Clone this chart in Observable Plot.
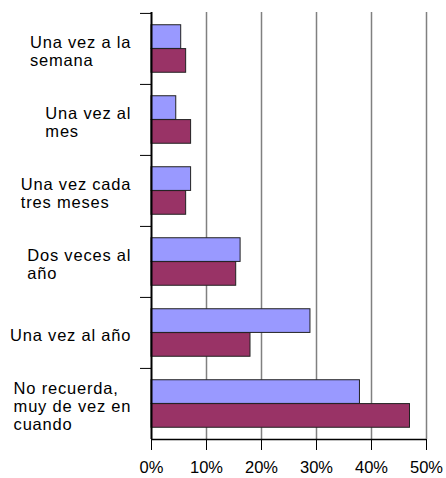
<!DOCTYPE html>
<html><head><meta charset="utf-8">
<script src="https://cdn.jsdelivr.net/npm/d3@7"></script>
<script src="https://cdn.jsdelivr.net/npm/@observablehq/plot@0.6"></script>
<style>
body{margin:0;background:#fff;}
svg g[aria-label="text"] text{letter-spacing:0.8px;}
</style></head><body><div id="chart"></div>
<script>
const categories = ["Una vez a la semana","Una vez al mes","Una vez cada tres meses","Dos veces al año","Una vez al año","No recuerda, muy de vez en cuando"];
const labels = ["Una vez a la\nsemana","Una vez al\nmes","Una vez cada\ntres meses","Dos veces al\naño","Una vez al año","No recuerda,\nmuy de vez en\ncuando"];
const serie1 = [5.4, 4.5, 7.2, 16.2, 28.9, 37.9];
const serie2 = [6.3, 7.2, 6.3, 15.4, 18.0, 47.0];
const xTicks = [0, 10, 20, 30, 40, 50];

const W = 446, H = 478, mL = 151, mR = 20, mT = 12, mB = 39;
const band = (H - mT - mB) / categories.length;
const pad = band * 0.165;
const barH = (band - 2 * pad) / 2;

const data1 = categories.map((c, i) => ({cat: c, v: serie1[i]}));
const data2 = categories.map((c, i) => ({cat: c, v: serie2[i]}));

const font = "Liberation Sans, Arial, sans-serif";
const ctx = document.createElement("canvas").getContext("2d");
ctx.font = "16.5px 'Liberation Sans'";
const measure = s => ctx.measureText(s).width + (s.length - 1) * 0.8;

const labelMarks = categories.map((c, i) => {
  const maxW = d3.max(labels[i].split("\n"), measure);
  return Plot.text([c], {
    y: d => d, text: () => labels[i], frameAnchor: "left", textAnchor: "start",
    lineAnchor: "middle", lineHeight: 1.1, fontSize: 16.5, fill: "#000",
    dx: -21 - maxW, dy: 2
  });
});

const chart = Plot.plot({
  width: W, height: H,
  marginLeft: mL, marginRight: mR, marginTop: mT, marginBottom: mB,
  style: {fontFamily: font, fontSize: "16px", color: "#000", background: "#fff"},
  x: {domain: [0, 50]},
  y: {domain: categories, padding: 0},
  marks: [
    Plot.ruleX(xTicks.slice(1), {stroke: "#808080", strokeWidth: 1.5}),
    Plot.barX(data1, {x: "v", y: "cat", fill: "#9999FF", stroke: "#222", strokeWidth: 1,
      insetTop: pad, insetBottom: band - pad - barH}),
    Plot.barX(data2, {x: "v", y: "cat", fill: "#993366", stroke: "#222", strokeWidth: 1,
      insetTop: pad + barH, insetBottom: pad}),
    Plot.ruleX([0], {stroke: "#000", strokeWidth: 2}),
    Plot.ruleY([categories[categories.length - 1]], {dy: band / 2, stroke: "#000", strokeWidth: 1.5}),
    Plot.axisY({tickSize: 11, tickFormat: () => "", dy: -band / 2, stroke: "#000", label: null}),
    Plot.axisX(xTicks, {tickSize: 11, tickPadding: 11, tickFormat: d => d + "%", label: null,
      stroke: "#000", fontSize: 16.5, fill: "#000"}),
    ...labelMarks
  ]
});
document.getElementById("chart").appendChild(chart);
</script></body></html>
